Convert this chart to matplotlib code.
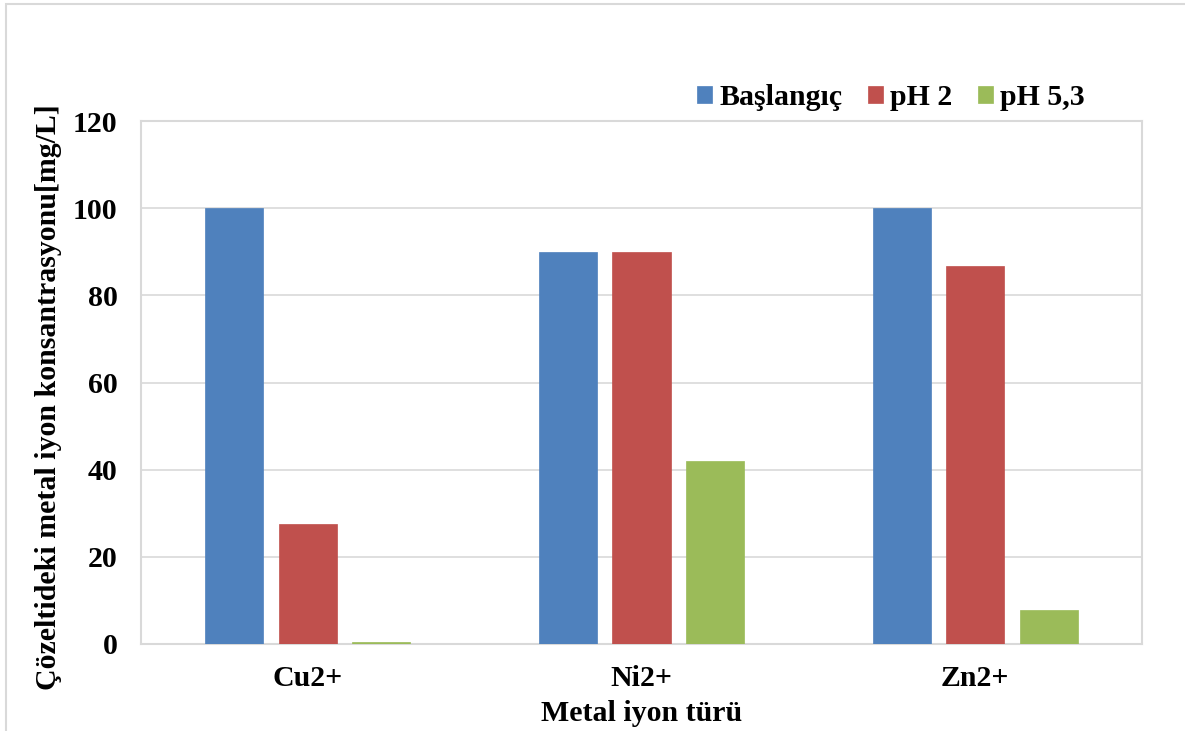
import numpy as np
import matplotlib.pyplot as plt
from matplotlib.patches import Rectangle

plt.rcParams['font.family'] = ['Liberation Serif', 'DejaVu Serif']
plt.rcParams['font.weight'] = 'bold'

ions = ['Cu2+', 'Ni2+', 'Zn2+']
baslangic = [100, 90, 100]
ph2 = [27.5, 90, 86.7]
ph53 = [0.5, 42, 7.8]

series = {
    'Başlangıç': baslangic,
    'pH 2': ph2,
    'pH 5,3': ph53,
}
colors = ['#4F81BD', '#C0504D', '#9BBB59']
fs = 21.5

fig = plt.figure(figsize=(11.85, 7.31), dpi=100)
ax = fig.add_axes([141/1185, 87/731, 1001/1185, 523/731])

# outer chart frame (left and top edges visible)
fig.patches.append(Rectangle((6/1185, -0.1), 1.2, 1 - 4/731 + 0.1,
                             transform=fig.transFigure, fill=False,
                             edgecolor='#D9D9D9', linewidth=1.5))

x = np.arange(len(ions))
width = 0.174
step = 0.22
for i, (name, vals) in enumerate(series.items()):
    ax.bar(x + (i - 1) * step, vals, width=width, color=colors[i],
           label=name, edgecolor=colors[i], linewidth=0.5, zorder=3)

ax.set_xlim(-0.5, 2.5)
ax.set_ylim(0, 120)
ax.set_yticks(np.arange(0, 121, 20))
ax.set_xticks(x, ions)
ax.tick_params(length=0, labelsize=fs)
ax.tick_params(axis='x', pad=15)
ax.tick_params(axis='y', pad=17)
ax.grid(axis='y', color='#D9D9D9', linewidth=1.2, zorder=0)
ax.set_axisbelow(True)
for s in ax.spines.values():
    s.set_color('#D9D9D9')
    s.set_linewidth(1.5)

ax.set_xlabel('Metal iyon türü', fontsize=fs, fontweight='bold', labelpad=6)
ax.set_ylabel('Çözeltideki metal iyon konsantrasyonu[mg/L]', fontsize=fs,
              fontweight='bold')
ax.yaxis.set_label_coords(-0.079, 0.472)

ax.legend(loc='center right', bbox_to_anchor=(0.958, 1.045), ncol=3,
          frameon=False, fontsize=fs, handlelength=0.5, handleheight=0.5,
          handletextpad=0.25, columnspacing=0.85, borderpad=0)

plt.savefig('out.png', dpi=100)
